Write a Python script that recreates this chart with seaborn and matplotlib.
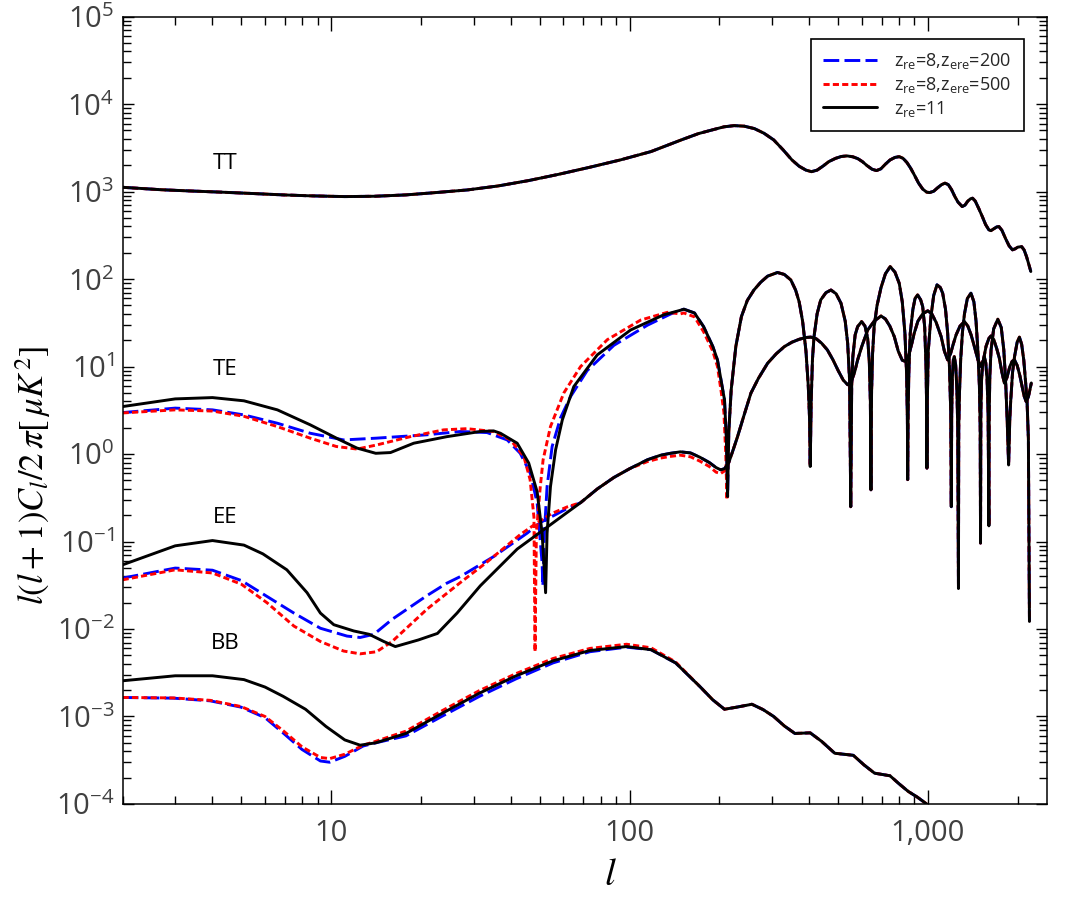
import numpy as np
import matplotlib
matplotlib.use("Agg")
import matplotlib.pyplot as plt
import seaborn as sns
from matplotlib.lines import Line2D
from matplotlib.ticker import FixedLocator, LogLocator, NullFormatter, FixedFormatter

# ---------------- data ----------------
models = [r"z$_{\mathregular{re}}$=8,z$_{\mathregular{ere}}$=200",
          r"z$_{\mathregular{re}}$=8,z$_{\mathregular{ere}}$=500",
          r"z$_{\mathregular{re}}$=11"]
colors = ["#0000ff", "#ff0000", "#000000"]

# TT (all three models coincide)
tt_l = [2, 2.7, 3.3, 4.3, 5.5, 6.9, 8.5, 11.1, 14, 17.8, 22, 28.6, 36.2, 45.8, 58, 73.6,
        93, 118, 149, 170, 189, 207, 224, 242, 262, 282, 304, 327, 350, 370, 390, 407,
        425, 445, 465, 490, 512, 535, 560, 582, 603, 625, 650, 672, 695, 720, 746, 775,
        801, 825, 850, 875, 900, 930, 960, 990, 1013, 1045, 1075, 1110, 1140, 1170, 1200,
        1230, 1260, 1302, 1330, 1360, 1390, 1411, 1440, 1480, 1520, 1560, 1600, 1626,
        1660, 1700, 1730, 1770, 1820, 1870, 1919, 1960, 2000, 2060, 2100, 2140, 2180, 2211]
tt_v = [1120, 1050, 1020, 985, 950, 917, 895, 877, 885, 917, 970, 1045, 1160, 1336, 1580,
        1900, 2300, 2870, 3900, 4600, 5070, 5500, 5680, 5600, 5250, 4650, 3900, 3000, 2300,
        1950, 1760, 1690, 1760, 1960, 2200, 2400, 2520, 2560, 2500, 2380, 2200, 1980, 1800,
        1740, 1820, 2060, 2300, 2460, 2510, 2400, 2150, 1850, 1550, 1250, 1070, 985, 975,
        1010, 1100, 1200, 1250, 1200, 1050, 880, 760, 675, 700, 780, 830, 840, 780, 640,
        520, 420, 365, 358, 375, 395, 398, 360, 290, 240, 216, 222, 232, 235, 215, 180,
        145, 122]

# |TE| low multipoles, per model
te_blue_l = [2, 3, 4, 5.1, 6.6, 8.5, 11, 14.2, 20.9, 27.1, 33.3, 38.9, 43, 46.5, 49, 50.9,
             51.2, 51.8, 52.9, 55, 58.7, 63.4, 72.1, 88.6, 114.7, 137]
te_blue_v = [2.98, 3.35, 3.2, 2.8, 2.25, 1.73, 1.45, 1.52, 1.66, 1.81, 1.76, 1.45, 1.02, 0.6,
             0.275, 0.057, 0.031, 0.125, 0.425, 1.22, 2.6, 4.54, 9.0, 17.5, 29.7, 39.8]
te_red_l = [2, 3, 4, 5.1, 6.6, 8.5, 10.4, 12.2, 14.2, 18.4, 23.8, 28.5, 35, 39.9, 44.2, 46.4,
            47.8, 48.2, 48.7, 50.2, 51.3, 54.3, 60.2, 68.5, 84.2, 108.9, 133.8]
te_red_v = [2.95, 3.2, 3.1, 2.7, 2.06, 1.52, 1.22, 1.14, 1.27, 1.58, 1.89, 1.95, 1.81, 1.45,
            0.94, 0.51, 0.19, 0.0055, 0.125, 0.425, 0.86, 2.06, 5.0, 10, 20.3, 34, 41.7]
te_red_mid_l = [148, 152, 165, 177, 190, 197, 203, 207, 210, 212]
te_red_mid_v = [40, 41, 37, 25, 15, 10, 5, 3, 1.0, 0.3]
te_black_l = [2, 3, 4, 5.1, 6.6, 8.5, 10.7, 12.2, 14.1, 15.8, 18.9, 24.4, 31.6, 35, 36.9, 42,
              45.9, 49, 50.9, 52.3, 52.9, 54.3, 56.5, 59.5, 65, 77.9, 100.8, 130]
te_black_v = [3.49, 4.27, 4.42, 4.06, 3.2, 2.16, 1.45, 1.17, 1.02, 1.04, 1.33, 1.58, 1.81,
              1.84, 1.73, 1.33, 0.79, 0.37, 0.125, 0.026, 0.125, 0.425, 1.12, 2.46, 5.9, 13.6,
              26.2, 39]
# |TE| high multipoles (shared)
te_hi_l = [148, 152, 165, 177, 190, 197, 204, 208, 211, 213,
           215, 219, 227, 237, 248, 261, 275, 290, 313, 330, 347, 360, 370, 380, 390, 397,
           401, 403,
           406, 410, 415, 425, 437, 455, 473, 492, 511, 528, 538, 546, 551,
           555, 560, 570, 581, 599, 615, 628, 636, 641, 644,
           647, 652, 660, 675, 696, 720, 747, 775, 801, 820, 837, 848, 853, 855,
           858, 863, 872, 890, 905, 923, 945, 960, 975, 985, 990, 992,
           995, 1002, 1023, 1045, 1072, 1100, 1120, 1145, 1164, 1180, 1192, 1197,
           1201, 1208, 1216, 1225, 1238, 1250, 1258, 1265,
           1268, 1275, 1287, 1305, 1325, 1355, 1393, 1425, 1449, 1470, 1487, 1496, 1500,
           1504, 1512, 1526, 1545, 1562, 1578, 1590, 1600,
           1604, 1612, 1627, 1660, 1714, 1760, 1795, 1820, 1842, 1863,
           1880, 1893, 1920, 1950, 1990, 2025, 2060, 2094, 2125, 2148, 2170, 2188]
te_hi_v = [44, 45.3, 41, 28.6, 17, 11.9, 6, 4.16, 1.5, 0.327,
           1.8, 5.42, 17, 37.3, 57, 75, 92, 108, 119, 113, 97.7, 75, 55, 33, 15, 6,
           2.5, 0.72,
           4, 12, 22, 40, 57.8, 70, 75, 68, 53, 33, 18.5, 7, 0.25,
           6, 13, 23, 28.6, 32.7, 29, 21, 11, 4, 0.39,
           5, 14, 28.6, 50, 80, 115, 139, 120, 89.5, 55, 24, 8, 2.5, 0.51,
           3, 9, 24, 45, 60, 66, 58, 48.5, 28, 10, 3, 0.69,
           4, 15, 37.3, 65, 86, 80, 69, 45, 24, 10, 3, 0.25,
           3, 8, 12, 13, 10.5, 5.4, 2, 0.029,
           2, 5, 12, 25, 40, 60, 69, 55, 33, 15, 6, 2, 0.096,
           3, 7, 11, 13, 11, 7, 3, 0.151,
           3, 8, 15.5, 27, 34.8, 28, 15.5, 7, 2.5, 0.75,
           2.5, 4.0, 8.5, 13, 19, 21.7, 18, 11.9, 6.5, 4.0, 1.5, 0.0122]

# EE low multipoles, per model
ee_blue_l = [2, 3, 4, 5, 6.1, 7.5, 9.2, 11.3, 12.5, 13.9, 16, 20.9, 24.4, 27.1, 35, 45.4,
             50.2, 56, 62]
ee_blue_v = [0.0382, 0.0497, 0.047, 0.0358, 0.0235, 0.0152, 0.0102, 0.0083, 0.0080, 0.0087,
             0.0129, 0.024, 0.0334, 0.0398, 0.0672, 0.125, 0.165, 0.2, 0.24]
ee_red_l = [2, 3, 4, 5, 6.1, 7.5, 9.2, 11, 12.5, 14.2, 16, 21, 27.1, 33, 43, 49, 55, 62]
ee_red_v = [0.0365, 0.0475, 0.0437, 0.0325, 0.0199, 0.0108, 0.0072, 0.0056, 0.0052, 0.0055,
            0.0072, 0.017, 0.034, 0.057, 0.12, 0.164, 0.21, 0.25]
ee_red_mid_l = [114.7, 127, 137, 148, 160, 172, 185, 195, 202, 208]
ee_red_mid_v = [0.82, 0.9, 0.94, 0.97, 0.93, 0.83, 0.72, 0.62, 0.6, 0.64]
ee_black_l = [2, 3, 4, 5.1, 5.9, 7.1, 8.3, 9.2, 10.2, 11.9, 13.4, 15, 16.4, 19.6, 22.7, 26.4,
              31.6, 42, 51.3, 60]
ee_black_v = [0.0542, 0.0893, 0.1026, 0.091, 0.0723, 0.0475, 0.026, 0.0152, 0.0112, 0.0095,
              0.0087, 0.0072, 0.0063, 0.0075, 0.0089, 0.0152, 0.0312, 0.082, 0.135, 0.20]
# EE high multipoles (shared)
ee_hi_l = [68.5, 78, 88.6, 100, 114.7, 127, 137, 148, 160, 172, 185, 195, 202, 208, 215,
           222, 230, 242, 255, 270, 290, 310, 330, 350, 370, 390, 405, 422, 440, 460, 480,
           500, 520, 538, 552, 567, 581, 600, 628, 660, 696, 720, 745, 771, 795, 820, 844,
           865, 885, 899, 925, 960, 998, 1030, 1065, 1107, 1135, 1164, 1190, 1215, 1242,
           1280, 1325, 1360, 1395, 1430, 1470, 1506, 1535, 1565, 1600, 1626, 1660, 1700,
           1734, 1770, 1803, 1840, 1880, 1915, 1950, 1990, 2030, 2070, 2100, 2133, 2170,
           2200, 2220]
ee_hi_v = [0.278, 0.4, 0.54, 0.68, 0.86, 0.97, 1.02, 1.06, 1.03, 0.92, 0.8, 0.7, 0.66, 0.68,
           0.8, 1.1, 1.58, 2.8, 4.97, 7.3, 10.9, 14, 16.9, 19, 20.5, 21.5, 21.7, 20.8, 18.5,
           15.5, 12, 9, 7, 6.2, 6.6, 8.5, 11.9, 17, 26.2, 33, 37.9, 35, 29, 22, 15, 11.8,
           11.4, 14, 19, 24, 33, 40, 43.4, 40, 32, 22, 15, 11.9, 14, 18, 23, 29, 32.7, 29,
           23, 17, 12, 10, 12, 17, 21, 22.4, 20.5, 16, 12.5, 8.5, 6.46, 7.5, 10, 11.5, 11.9,
           10.3, 8, 5.8, 4.6, 3.98, 4.5, 5.6, 6.5]

# BB
bb_low_l = [2, 2.96, 3.93, 4.98, 6, 6.93, 7.98, 9.2, 9.88, 11.1, 12.8, 14.1]
bb_blue_low_v = [0.00165, 0.00162, 0.00151, 0.00128, 0.00097, 0.00064, 0.00042, 0.00031,
                 0.0003, 0.00035, 0.00046, 0.0005]
bb_red_low_v = [0.00165, 0.00163, 0.00153, 0.0013, 0.001, 0.00068, 0.00045, 0.00034,
                0.00033, 0.00037, 0.00047, 0.00052]
bb_black_low_l = [2, 3, 4, 5.1, 6, 6.9, 8.2, 9.6, 11.1, 12.5, 14.1]
bb_black_low_v = [0.00256, 0.00292, 0.00292, 0.00264, 0.00217, 0.0017, 0.00121, 0.00077,
                  0.00054, 0.00047, 0.0005]
bb_mid_l = [17.8, 23.7, 31.4, 41.7, 55.4, 73.6, 97.7, 118, 142.6]
bb_blue_mid_v = [0.0006, 0.00102, 0.0017, 0.0027, 0.0041, 0.0055, 0.0062, 0.0058, 0.0041]
bb_red_mid_v = [0.00068, 0.00118, 0.00198, 0.0031, 0.0046, 0.006, 0.0067, 0.0061, 0.0042]
bb_black_mid_v = [0.00064, 0.0011, 0.00185, 0.00292, 0.00433, 0.00568, 0.0063, 0.0058, 0.0041]
bb_hi_l = [172, 190, 208, 229, 257, 280, 304, 330, 358, 403, 440, 487, 562, 610, 662, 746,
           800, 859, 920, 990]
bb_hi_v = [0.0022, 0.00155, 0.00121, 0.00128, 0.00138, 0.0012, 0.001, 0.00078, 0.00064,
           0.00065, 0.00052, 0.00038, 0.00036, 0.00028, 0.000225, 0.00021, 0.00017,
           0.000139, 0.00012, 0.0001]

spec_labels = ["TT", "TE", "EE", "BB"]
spec_label_l = [4.42, 4.42, 4.42, 4.42]
spec_label_v = [2113, 9.34, 0.188, 0.0069]

# ---------------- assemble series ----------------
series = {
    0: [(tt_l, tt_v),
        (te_blue_l + te_hi_l, te_blue_v + te_hi_v),
        (ee_blue_l + ee_hi_l, ee_blue_v + ee_hi_v),
        (bb_low_l + bb_mid_l + bb_hi_l, bb_blue_low_v + bb_blue_mid_v + bb_hi_v)],
    1: [(tt_l, tt_v),
        (te_red_l + te_red_mid_l + te_hi_l[10:], te_red_v + te_red_mid_v + te_hi_v[10:]),
        (ee_red_l + ee_hi_l[:4] + ee_red_mid_l + ee_hi_l[14:],
         ee_red_v + ee_hi_v[:4] + ee_red_mid_v + ee_hi_v[14:]),
        (bb_low_l + bb_mid_l + bb_hi_l, bb_red_low_v + bb_red_mid_v + bb_hi_v)],
    2: [(tt_l, tt_v),
        (te_black_l + te_hi_l, te_black_v + te_hi_v),
        (ee_black_l + ee_hi_l, ee_black_v + ee_hi_v),
        (bb_black_low_l + bb_mid_l + bb_hi_l, bb_black_low_v + bb_black_mid_v + bb_hi_v)],
}
dash_styles = [(5.4, 1.8), (2.1, 1.1), None]

# ---------------- style ----------------
sns.set_theme(style="ticks")
plt.rcParams.update({
    "font.family": ["Open Sans", "DejaVu Sans"],
    "mathtext.fontset": "custom",
    "mathtext.rm": "Open Sans",
    "mathtext.it": "Open Sans:italic",
    "mathtext.bf": "Open Sans:bold",
    "mathtext.sf": "Open Sans",
    "mathtext.default": "it",
    "axes.linewidth": 1.1,
    "axes.edgecolor": "black",
    "lines.solid_joinstyle": "round",
})

fig = plt.figure(figsize=(10.75, 9), dpi=100)
ax = fig.add_axes([0.1141, 0.1067, 0.8596, 0.8748])
ax.set_xscale("log")
ax.set_yscale("log")

lw = 2.1
for m in range(3):
    for (lx, vy) in series[m]:
        sns.lineplot(x=np.array(lx, float), y=np.array(vy, float), ax=ax, color=colors[m],
                     linewidth=lw, estimator=None, sort=False, legend=False)
        line = ax.lines[-1]
        line.set_zorder(2 + m * 0.1)
        line.set_solid_joinstyle("round")
        if dash_styles[m] is not None:
            line.set_dashes(dash_styles[m])

for name, lx, vy in zip(spec_labels, spec_label_l, spec_label_v):
    ax.text(lx, vy, name, ha="center", va="center", fontsize=16, color="black")

ax.set_xlim(2, 2500)
ax.set_ylim(1e-4, 1e5)

ax.xaxis.set_major_locator(FixedLocator([10, 100, 1000]))
ax.xaxis.set_major_formatter(FixedFormatter(["10", "100", "1,000"]))
ax.xaxis.set_minor_locator(LogLocator(base=10, subs=np.arange(2, 10), numticks=50))
ax.xaxis.set_minor_formatter(NullFormatter())
ax.yaxis.set_major_locator(FixedLocator([10.0 ** k for k in range(-4, 6)]))
ax.yaxis.set_major_formatter(FixedFormatter(
    [r"$\mathdefault{10^{%d}}$" % k for k in range(-4, 6)]))
ax.yaxis.set_minor_locator(LogLocator(base=10, subs=np.arange(2, 10), numticks=100))
ax.yaxis.set_minor_formatter(NullFormatter())

ax.tick_params(which="both", direction="in", top=True, right=True, width=1.0, color="black")
ax.tick_params(axis="x", which="major", length=10, pad=11, labelsize=21, labelcolor="#404040")
ax.tick_params(axis="x", which="minor", length=5.5)
ax.tick_params(axis="y", which="major", length=8, pad=6, labelsize=21, labelcolor="#404040")
ax.tick_params(axis="y", which="minor", length=5.5)

ax.set_xlabel(r"$l$", fontsize=28, math_fontfamily="stix", color="black")
ax.xaxis.set_label_coords(0.528, -0.066)
ax.xaxis.label.set_va("top")
ax.set_ylabel(r"$l(l+1)C_l/2\,\pi[\,\mu K^2]$", fontsize=25, math_fontfamily="stix",
              color="black")
ax.yaxis.set_label_coords(-0.075, 0.418)

handles = [Line2D([], [], color=colors[0], lw=lw),
           Line2D([], [], color=colors[1], lw=lw),
           Line2D([], [], color=colors[2], lw=lw)]
handles[0].set_dashes(dash_styles[0])
handles[1].set_dashes(dash_styles[1])
leg = ax.legend(handles, models, loc="upper right", bbox_to_anchor=(0.975, 0.972),
                fontsize=13, frameon=True, fancybox=False, framealpha=1,
                edgecolor="black", handlelength=3.0, labelspacing=0.2,
                borderpad=0.7, handletextpad=0.9, borderaxespad=0)
leg.get_frame().set_linewidth(1.2)

fig.savefig("out.png", dpi=100)
